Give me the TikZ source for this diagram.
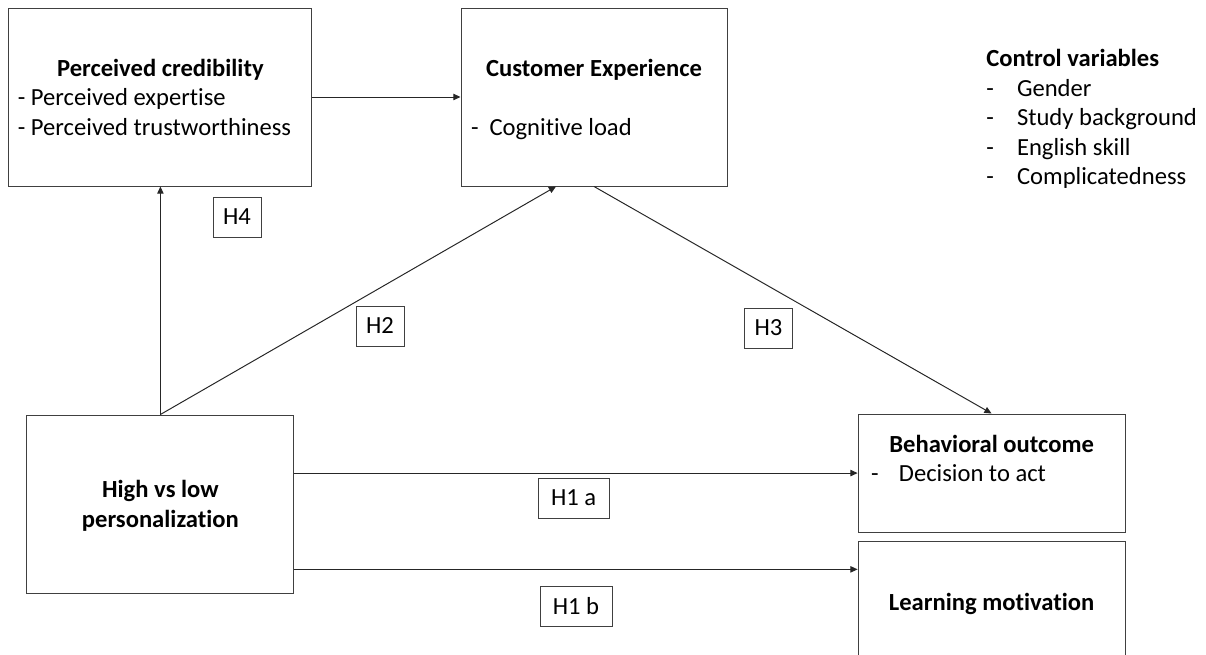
\documentclass[tikz,border=0pt]{standalone}
\usepackage{fontspec}
\setmainfont{Carlito}[Ligatures=CommonOff]
\usepackage{tikz}
\usetikzlibrary{arrows.meta}
\newcommand{\shiftdown}[1]{\raisebox{-2pt}[\height][\depth]{#1}}

\begin{document}
\begin{tikzpicture}[
  every node/.style={font=\fontsize{17.5}{21}\selectfont},
  box/.style={rectangle,draw=black!75,line width=0.7pt,inner sep=0pt,minimum width=6.675cm,minimum height=4.45cm},
  hyp/.style={rectangle,draw=black!75,line width=0.7pt,inner sep=0pt,minimum width=1.2cm,minimum height=1cm},
  arrow/.style={-{Triangle[length=1.8mm,width=1.6mm]},line width=0.7pt,draw=black!85}
]
  \clip (0,0) rectangle (30.15,-16.375);
  \node[box,minimum width=7.575cm] (cred) at (4.01,-2.425) {\shiftdown{\begin{tabular}{@{}p{7.125cm}@{}}\centering\textbf{Perceived credibility}\tabularnewline - Perceived expertise\tabularnewline - Perceived trustworthiness\end{tabular}}};
  \node[box,minimum width=6.65cm] (ce) at (14.85,-2.425) {\shiftdown{\begin{tabular}{@{}p{6.15cm}@{}}\centering\textbf{Customer Experience}\tabularnewline\tabularnewline -\hspace{0.45em}Cognitive load\end{tabular}}};
  \node[anchor=west,inner sep=0pt] (ctrl) at (24.65,-3.0) {\begin{tabular}{@{}l@{}}\textbf{Control variables}\\\makebox[1.25em][l]{-}Gender\\\makebox[1.25em][l]{-}Study background\\\makebox[1.25em][l]{-}English skill\\\makebox[1.25em][l]{-}Complicatedness\end{tabular}};
  \node[box] (hl) at (4.01,-12.6) {\shiftdown{\begin{tabular}{@{}c@{}}\textbf{High vs low}\\\textbf{personalization}\end{tabular}}};
  \node[box,minimum height=2.95cm] (bo) at (24.79,-11.825) {\shiftdown{\begin{tabular}{@{}p{6.025cm}@{}}\centering\textbf{Behavioral outcome}\tabularnewline\makebox[1.13em][l]{-}Decision to act\tabularnewline ~\end{tabular}}};
  \node[box,minimum height=3cm] (lm) at (24.79,-15.025) {\shiftdown{\textbf{Learning motivation}}};
  % hypotheses
  \node[hyp] (h4) at (5.925,-5.425) {H4};
  \node[hyp] (h2) at (9.5,-8.15) {H2};
  \node[hyp] (h3) at (19.21,-8.2) {H3};
  \node[hyp,minimum width=1.78cm] (h1a) at (14.34,-12.45) {H1 a};
  \node[hyp,minimum width=1.8cm] (h1b) at (14.4,-15.16) {H1 b};
  % paths
  \draw[arrow] (cred.east) -- (ce.west);
  \draw[arrow] (hl.north) -- (cred.south);
  \draw[arrow] (hl.north) -- (ce.247);
  \draw[arrow] (ce.south) -- (bo.north);
  \draw[arrow] (hl.13) -- (hl.13 -| bo.west);
  \draw[arrow] (hl.-26) -- (hl.-26 -| lm.west);
\end{tikzpicture}
\end{document}
